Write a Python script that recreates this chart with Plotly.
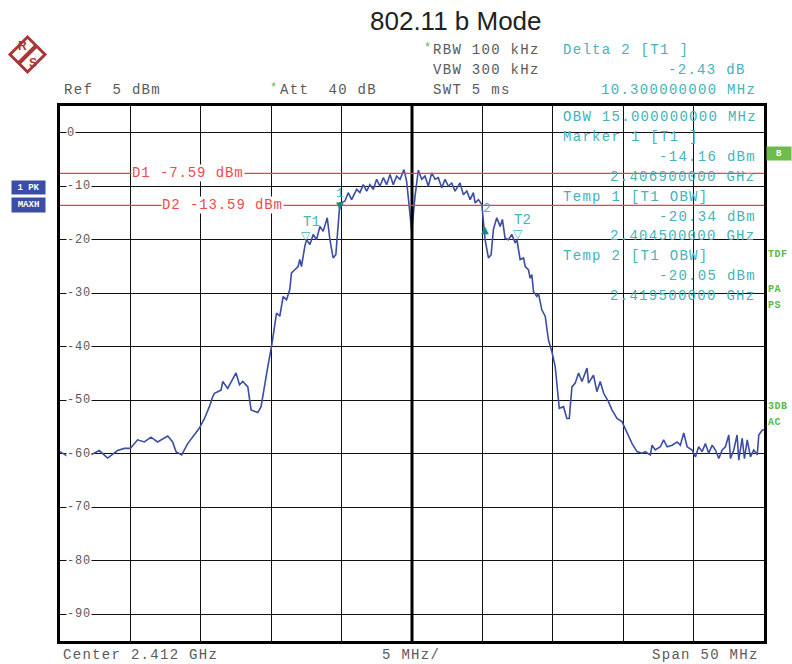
import plotly.graph_objects as go

# ---------------- data ----------------
CENTER_GHZ = 2.412
SPAN_MHZ = 50
DIV_MHZ = 5
REF_DBM = 5
RANGE_DB = 100

freq_offset_mhz = [
    -25.0, -24.0, -23.63, -23.40, -22.81, -22.21, -21.62, -20.91, -20.43, -20.01,
    -19.49, -19.01, -18.54, -18.07, -17.35, -17.0, -16.76, -16.36, -15.93, -15.46,
    -15.10, -14.74, -14.39, -14.15, -14.03, -13.56, -13.44, -13.09, -12.85, -12.50,
    -12.25, -12.02, -11.66, -11.43, -10.95, -10.72, -10.24, -9.98, -9.62, -9.39,
    -9.15, -8.91, -8.68, -8.56, -8.32, -8.09, -7.97, -7.85, -7.61, -7.49,
    -7.25, -7.02, -6.78, -6.54, -6.31, -6.02, -5.83, -5.60, -5.41, -5.24,
    -5.12, -4.77, -4.53, -4.29, -3.93, -3.70, -3.46, -3.22, -2.99, -2.75,
    -2.51, -2.28, -2.04, -1.80, -1.56, -1.33, -1.09, -0.85, -0.57, -0.38,
    -0.19, -0.02, 0.21, 0.45, 0.69, 0.92, 1.16, 1.40, 1.64, 1.87,
    2.11, 2.35, 2.58, 2.82, 3.06, 3.41, 3.65, 3.89, 4.13, 4.36,
    4.48, 4.72, 4.96, 5.07, 5.19, 5.43, 5.62, 5.78, 6.02, 6.26,
    6.42, 6.61, 6.85, 7.09, 7.33, 7.45, 7.68, 7.92, 8.04, 8.27,
    8.39, 8.51, 8.63, 8.87, 8.98, 9.22, 9.46, 9.69, 9.94, 10.17,
    10.29, 10.46, 10.76, 11.00, 11.17, 11.36, 11.59, 11.83, 12.07, 12.43,
    12.54, 12.89, 13.13, 13.37, 13.61, 13.96, 14.20, 14.56, 14.91, 15.27,
    15.63, 15.98, 16.34, 16.57, 16.93, 17.05, 17.28, 17.64, 17.87, 18.12,
    18.47, 18.83, 19.06, 19.30, 19.54, 19.89, 20.13, 20.36, 20.60, 20.84,
    21.07, 21.32, 21.55, 21.79, 22.03, 22.26, 22.50, 22.62, 22.85, 23.09,
    23.21, 23.45, 23.61, 23.81, 24.04, 24.27, 24.52, 24.63, 24.87, 25.0,
]
level_dbm = [
    -59.6, -61.2, -59.8, -61.2, -60.2, -59.4, -60.8, -59.4, -59.0, -59.0,
    -57.4, -57.8, -56.9, -57.8, -56.7, -57.8, -59.6, -60.2, -58.1, -56.5,
    -55.2, -53.4, -51.2, -49.3, -48.7, -48.1, -46.5, -47.8, -46.5, -44.9,
    -47.1, -46.5, -47.5, -51.8, -52.3, -51.2, -43.7, -40.0, -33.7, -34.3,
    -30.6, -31.2, -29.3, -26.2, -25.6, -25.0, -23.7, -25.0, -21.2, -20.0,
    -20.9, -19.0, -20.0, -17.5, -18.4, -15.9, -20.0, -23.4, -22.8, -16.9,
    -13.1, -12.8, -11.2, -12.5, -10.6, -11.2, -9.7, -10.9, -9.7, -10.6,
    -8.7, -10.0, -8.4, -9.7, -7.8, -9.7, -8.1, -8.7, -6.9, -9.1,
    -14.4, -18.4, -12.0, -7.0, -8.7, -8.1, -10.0, -7.5, -8.7, -8.4,
    -10.3, -8.7, -10.0, -9.4, -10.9, -9.4, -11.6, -10.9, -12.5, -11.2,
    -13.1, -12.5, -13.4, -16.6, -20.0, -23.4, -22.8, -18.1, -15.9, -17.5,
    -16.2, -19.7, -20.0, -19.0, -20.6, -20.0, -23.7, -23.4, -25.0, -25.6,
    -27.2, -26.5, -29.7, -30.6, -30.0, -33.1, -34.3, -38.7, -41.0, -43.7,
    -46.8, -51.5, -51.2, -53.4, -53.4, -47.5, -46.8, -44.9, -46.5, -44.0,
    -46.8, -45.3, -48.4, -46.5, -48.7, -50.3, -51.8, -53.4, -54.0, -55.9,
    -58.1, -59.6, -59.9, -59.6, -60.2, -58.4, -59.3, -58.7, -57.4, -58.7,
    -58.4, -57.8, -58.4, -56.1, -58.7, -59.3, -60.6, -58.7, -59.6, -58.1,
    -59.9, -58.4, -59.3, -60.9, -59.3, -58.7, -56.5, -60.9, -59.3, -56.5,
    -61.2, -57.1, -60.9, -57.4, -60.6, -59.3, -60.2, -56.5, -55.6, -55.5,
]

y_tick_values = [0, -10, -20, -30, -40, -50, -60, -70, -80, -90]

display_line_names = ["D1", "D2"]
display_line_dbm = [-7.59, -13.59]

obw_mhz = 15.0
marker1_ghz = 2.4069
marker1_dbm = -14.16
delta2_mhz = 10.3
delta2_db = -2.43
temp_names = ["T1", "T2"]
temp_ghz = [2.4045, 2.4195]
temp_dbm = [-20.34, -20.05]

freq_ghz = [CENTER_GHZ + f / 1000.0 for f in freq_offset_mhz]
x_lo = CENTER_GHZ - SPAN_MHZ / 2000.0
x_hi = CENTER_GHZ + SPAN_MHZ / 2000.0

# ---------------- layout helpers ----------------
FW, FH = 792, 664
ML, MR, MT, MB = 60, 28, 106, 23
PW, PH = FW - ML - MR, FH - MT - MB


def px(x):
    return (x - ML) / PW


def py(y):
    return (FH - MB - y) / PH


MONO = "Liberation Mono"
GRAY = "#5a5a5a"
TEAL = "#45b3b8"
TEAL_DARK = "#16877f"
RED = "#ff3a3a"
GREEN = "#5cb848"
BLUE = "#3b4ea3"


def sp(s, ls=1.3):
    return '<span style="letter-spacing:%spx">%s</span>' % (ls, s.replace("  ", "\u00a0\u00a0"))


annotations = []
shapes = []


def txt(x, y, s, color=GRAY, anchor="left", size=14, ls=1.3, family=MONO, **kw):
    annotations.append(dict(
        x=px(x), y=py(y), xref="paper", yref="paper", text=sp(s, ls),
        showarrow=False, xanchor=anchor, yanchor="middle",
        font=dict(family=family, size=size, color=color), **kw))


def box(x0, x1, y0, y1, s, fill, size=9):
    annotations.append(dict(
        x=px((x0 + x1) / 2), y=py((y0 + y1) / 2), xref="paper", yref="paper",
        text="<b>%s</b>" % s, showarrow=False, xanchor="center", yanchor="middle",
        width=x1 - x0, height=y1 - y0, bgcolor=fill, borderpad=0, align="center",
        font=dict(family=MONO, size=size, color="white")))


# title
annotations.append(dict(x=px(456), y=py(21), xref="paper", yref="paper",
                        text="802.11 b Mode", showarrow=False, xanchor="center",
                        yanchor="middle",
                        font=dict(family="Liberation Sans", size=26, color="#222222")))

# header
txt(62, 90, "Ref  5 dBm")
txt(268, 88, "*", color=GREEN, size=12, ls=0)
txt(278, 90, "Att  40 dB")
txt(422, 48, "*", color=GREEN, size=12, ls=0)
txt(431, 50, "RBW 100 kHz")
txt(431, 70, "VBW 300 kHz")
txt(431, 90, "SWT 5 ms")
txt(561, 50, "Delta 2 [T1 ]", color=TEAL)
txt(748, 70, "%.2f dB" % delta2_db, color=TEAL, anchor="right")
txt(758, 90, "%.9f MHz" % delta2_mhz, color=TEAL, anchor="right")

# in-plot marker info block
rows = [
    ("OBW %.9f MHz" % obw_mhz, "left"),
    ("Marker 1 [T1 ]", "left"),
    ("%.2f dBm" % marker1_dbm, "right"),
    ("%.9f GHz" % marker1_ghz, "right"),
    ("Temp 1 [T1 OBW]", "left"),
    ("%.2f dBm" % temp_dbm[0], "right"),
    ("%.9f GHz" % temp_ghz[0], "right"),
    ("Temp 2 [T1 OBW]", "left"),
    ("%.2f dBm" % temp_dbm[1], "right"),
    ("%.9f GHz" % temp_ghz[1], "right"),
]
for i, (s, a) in enumerate(rows):
    txt(561 if a == "left" else 758, 117 + i * 19.9, s, color=TEAL, anchor=a)

# bottom labels
txt(61, 655, "Center %.3f GHz" % CENTER_GHZ)
txt(411, 655, "%d MHz/" % DIV_MHZ, anchor="center")
txt(761, 655, "Span %d MHz" % SPAN_MHZ, anchor="right")

# right side soft-key labels
box(767, 791, 147, 160, "B", "#6dbd4c")
for s, yy in [("TDF", 254), ("PA", 289), ("PS", 305), ("3DB", 406), ("AC", 422)]:
    txt(766, yy, "<b>%s</b>" % s, color=GREEN, size=10, ls=0.5)

# left trace info boxes
box(12, 45, 181, 194, "1\u00a0PK", "#3a4ea8")
box(12, 45, 198, 212, "MAXH", "#3a4ea8")

# R&S logo (decoration)
lc = "#a83838"
cx, cy, r = 27.5, 54.5, 17.5
shapes.append(dict(type="path", xref="paper", yref="paper", layer="below",
                   path="M %f,%f L %f,%f L %f,%f L %f,%f Z" % (
                       px(cx - r), py(cy), px(cx), py(cy - r), px(cx + r), py(cy), px(cx), py(cy + r)),
                   line=dict(color=lc, width=3)))
shapes.append(dict(type="line", xref="paper", yref="paper", layer="below",
                   x0=px(cx - r / 2), y0=py(cy + r / 2), x1=px(cx + r / 2), y1=py(cy - r / 2),
                   line=dict(color=lc, width=4)))
annotations.append(dict(x=px(22), y=py(46), xref="paper", yref="paper", text="<b>R</b>",
                        showarrow=False, xanchor="center", yanchor="middle", borderpad=0,
                        font=dict(family="Liberation Sans", size=12, color=lc)))
annotations.append(dict(x=px(33), y=py(63), xref="paper", yref="paper", text="<b>S</b>",
                        showarrow=False, xanchor="center", yanchor="middle", borderpad=0,
                        font=dict(family="Liberation Sans", size=12, color=lc)))

# y tick labels drawn inside the grid
for v in y_tick_values:
    annotations.append(dict(x=px(66), y=v, xref="paper", yref="y", text=sp(str(v), 0.8),
                            showarrow=False, xanchor="left", yanchor="middle",
                            bgcolor="white", borderpad=0,
                            font=dict(family=MONO, size=12, color=GRAY)))

# center line
shapes.append(dict(type="line", xref="x", yref="paper", x0=CENTER_GHZ, x1=CENTER_GHZ,
                   y0=0, y1=1, line=dict(color="black", width=3)))

# display lines
label_x = [131, 161]
for name, v, lx in zip(display_line_names, display_line_dbm, label_x):
    shapes.append(dict(type="line", xref="paper", yref="y", x0=0, x1=1, y0=v, y1=v,
                       line=dict(color=RED, width=1.3)))
    annotations.append(dict(x=px(lx), y=v, xref="paper", yref="y",
                            text=sp("%s %.2f dBm" % (name, v), 0.9), showarrow=False,
                            xanchor="left", yanchor="middle", bgcolor="white", borderpad=0,
                            font=dict(family=MONO, size=14, color="#f24a4a")))

# markers
for name, f, v in zip(temp_names, temp_ghz, temp_dbm):
    annotations.append(dict(x=f, y=v, xref="x", yref="y", text="▽", showarrow=False,
                            yanchor="bottom", yshift=-3,
                            font=dict(family="DejaVu Sans", size=12, color=TEAL)))
    annotations.append(dict(x=f, y=v, xref="x", yref="y", text=name, showarrow=False,
                            yanchor="bottom", yshift=10, xshift=5,
                            font=dict(family=MONO, size=14, color=TEAL)))
annotations.append(dict(x=marker1_ghz, y=marker1_dbm, xref="x", yref="y", text="▼",
                        showarrow=False, yanchor="bottom", yshift=-4,
                        font=dict(family="DejaVu Sans", size=10, color=TEAL_DARK)))
annotations.append(dict(x=marker1_ghz, y=marker1_dbm, xref="x", yref="y", text="1",
                        showarrow=False, yanchor="bottom", yshift=6,
                        font=dict(family=MONO, size=13, color=TEAL)))
d2_f = marker1_ghz + delta2_mhz / 1000.0
d2_v = marker1_dbm + delta2_db
annotations.append(dict(x=d2_f, y=d2_v, xref="x", yref="y", text="▲",
                        showarrow=False, yanchor="top", yshift=0,
                        font=dict(family="DejaVu Sans", size=10, color=TEAL_DARK)))
annotations.append(dict(x=d2_f, y=d2_v, xref="x", yref="y", text="2",
                        showarrow=False, yanchor="bottom", yshift=4, xshift=2,
                        font=dict(family=MONO, size=13, color=TEAL)))

fig = go.Figure()
fig.add_trace(go.Scatter(x=freq_ghz, y=level_dbm, mode="lines",
                         line=dict(color=BLUE, width=1.6), hoverinfo="skip"))

fig.update_layout(
    width=FW, height=FH,
    margin=dict(l=ML, r=MR, t=MT, b=MB, pad=0),
    paper_bgcolor="white", plot_bgcolor="white",
    showlegend=False,
    annotations=annotations, shapes=shapes,
    xaxis=dict(range=[x_lo, x_hi], tick0=x_lo, dtick=DIV_MHZ / 1000.0,
               showgrid=True, gridcolor="#111111", gridwidth=1.4,
               showline=True, linecolor="black", linewidth=2.5, mirror=True,
               zeroline=False, showticklabels=False, ticks=""),
    yaxis=dict(range=[REF_DBM - RANGE_DB, REF_DBM], tick0=0, dtick=10,
               showgrid=True, gridcolor="#111111", gridwidth=1.4,
               showline=True, linecolor="black", linewidth=2.5, mirror=True,
               zeroline=False, showticklabels=False, ticks=""),
)

fig.write_html("out.html", config={"displayModeBar": False},
               post_script="document.body.style.margin='0';document.body.style.padding='0';")
